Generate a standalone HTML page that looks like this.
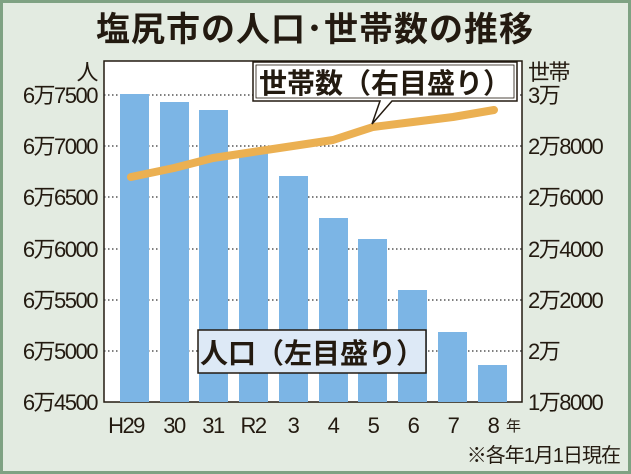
<!DOCTYPE html>
<html><head><meta charset="utf-8"><style>
body{margin:0;}
svg{display:block;}
text{font-family:"Liberation Sans","Noto Sans CJK JP",sans-serif;fill:#231a10;}
</style></head><body>
<svg width="631" height="474" viewBox="0 0 631 474">
<rect x="0" y="0" width="631" height="474" fill="#7fa283"/>
<rect x="3" y="3" width="625" height="468" fill="#e3ebe1"/>
<text x="315" y="41" font-size="34" font-weight="bold" text-anchor="middle" letter-spacing="1">塩尻市の人口･世帯数の推移</text>
<rect x="104" y="61" width="418" height="341" fill="#fff" stroke="#231a10" stroke-width="1.5"/>
<g stroke="#333" stroke-width="1.2" stroke-dasharray="1.5,2.5">
<line x1="104" y1="95" x2="522" y2="95"/><line x1="104" y1="146" x2="522" y2="146"/>
<line x1="104" y1="197" x2="522" y2="197"/><line x1="104" y1="249" x2="522" y2="249"/>
<line x1="104" y1="300" x2="522" y2="300"/><line x1="104" y1="351" x2="522" y2="351"/>
</g>
<g fill="#7cb5e5">
<rect x="120" y="94" width="29" height="308"/><rect x="160" y="102" width="29" height="300"/>
<rect x="199" y="110" width="29" height="292"/><rect x="239" y="152" width="29" height="250"/>
<rect x="279" y="176" width="29" height="226"/><rect x="319" y="218" width="29" height="184"/>
<rect x="358" y="239" width="29" height="163"/><rect x="398" y="290" width="29" height="112"/>
<rect x="438" y="332" width="29" height="70"/><rect x="478" y="365" width="29" height="37"/>
</g>
<polyline points="131,177 174,168 213,158 253,152 293,146 333,140 373,127 413,122 453,117 494,110" fill="none" stroke="#ebb052" stroke-width="8" stroke-linecap="round" stroke-linejoin="round"/>
<path d="M253,62 H517 V101 H392 L372,124 L380,101 H253 Z" fill="#fff" stroke="#231a10" stroke-width="1.5"/>
<rect x="256" y="65" width="258" height="33" fill="none" stroke="#231a10" stroke-width="0.8"/>
<text x="385" y="93" font-size="28" font-weight="bold" text-anchor="middle">世帯数（右目盛り）</text>
<rect x="198" y="330" width="228" height="43" fill="#dde9f6" stroke="#231a10" stroke-width="1.5"/>
<text x="312" y="363" font-size="28" font-weight="bold" text-anchor="middle">人口（左目盛り）</text>
<g font-size="22" text-anchor="end" letter-spacing="-1.5">
<text x="97" y="80">人</text>
<text x="97" y="103">6万7500</text><text x="97" y="154">6万7000</text>
<text x="97" y="205">6万6500</text><text x="97" y="257">6万6000</text>
<text x="97" y="308">6万5500</text><text x="97" y="359">6万5000</text>
<text x="97" y="410">6万4500</text>
</g>
<g font-size="22" letter-spacing="-1.5">
<text x="528" y="80">世帯</text>
<text x="528" y="103">3万</text><text x="528" y="154">2万8000</text>
<text x="528" y="205">2万6000</text><text x="528" y="257">2万4000</text>
<text x="528" y="308">2万2000</text><text x="528" y="359">2万</text>
<text x="528" y="410">1万8000</text>
</g>
<g font-size="22" text-anchor="middle" letter-spacing="-1.5">
<text x="126" y="433">H29</text><text x="174" y="433">30</text><text x="213" y="433">31</text>
<text x="253" y="433">R2</text><text x="293" y="433">3</text><text x="333" y="433">4</text>
<text x="373" y="433">5</text><text x="413" y="433">6</text><text x="453" y="433">7</text>
<text x="493" y="433">8</text>
</g>
<text x="506" y="431" font-size="15">年</text>
<text x="620" y="462" font-size="20" text-anchor="end" letter-spacing="-1">※各年1月1日現在</text>
</svg>
</body></html>
